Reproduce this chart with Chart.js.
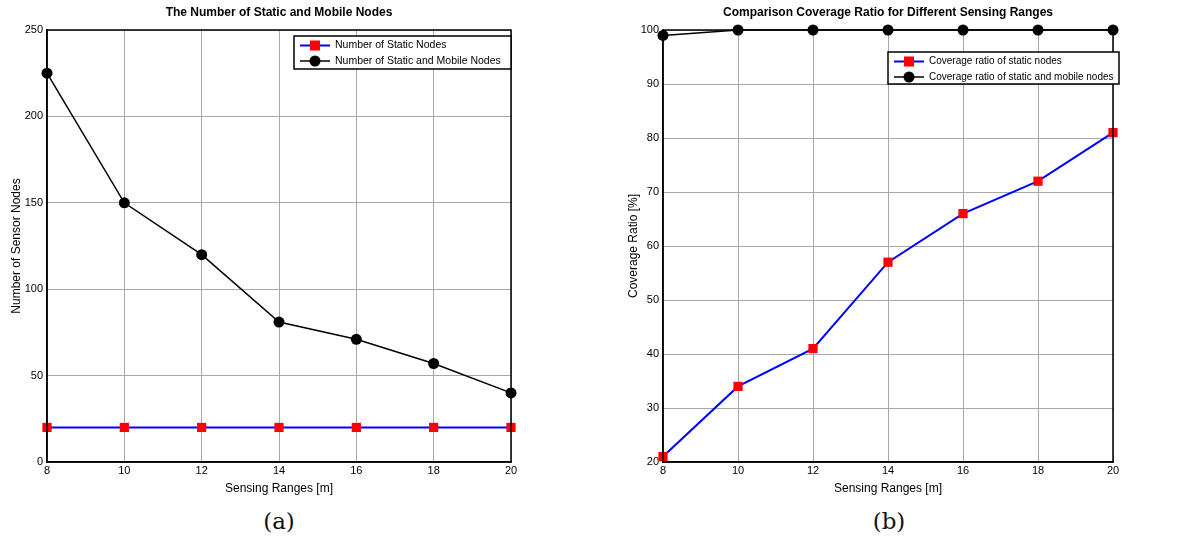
<!DOCTYPE html>
<html>
<head>
<meta charset="utf-8">
<script src="https://cdn.jsdelivr.net/npm/chart.js@4.4.0/dist/chart.umd.min.js"></script>
<style>
  body { margin: 0; background: #fff; width: 1178px; height: 546px; position: relative; overflow: hidden; }
  canvas { position: absolute; }
  .cap { position: absolute; font-family: "DejaVu Serif", "Liberation Serif", serif; font-size: 23px; color: #111; transform: translateX(-50%); }
</style>
</head>
<body>
<canvas id="chartA" style="left:0px;top:0px;width:530px;height:496px"></canvas>
<canvas id="chartB" style="left:620px;top:0px;width:558px;height:496px"></canvas>
<div class="cap" style="left:279px;top:508px">(a)</div>
<div class="cap" style="left:889px;top:508px">(b)</div>
<script>
const ranges = [8, 10, 12, 14, 16, 18, 20];
const staticNodes = [20, 20, 20, 20, 20, 20, 20];
const mobileNodes = [225, 150, 120, 81, 71, 57, 40];
const staticCoverage = [21, 34, 41, 57, 66, 72, 81];
const mobileCoverage = [99, 100, 100, 100, 100, 100, 100];

const font = '"Liberation Sans", Arial, sans-serif';

function points(ys) {
  return ranges.map((x, i) => ({ x: x, y: ys[i] }));
}

// box around plot + legend drawn inside plot, MATLAB style
function boxLegend(box) {
  return {
    id: 'boxLegend',
    afterDraw(chart) {
      const ctx = chart.ctx;
      const a = chart.chartArea;
      ctx.save();
      ctx.strokeStyle = '#000';
      ctx.lineWidth = 1.5;
      ctx.strokeRect(a.left, a.top, a.right - a.left, a.bottom - a.top);
      // legend
      ctx.fillStyle = '#fff';
      ctx.fillRect(box.x, box.y, box.w, box.h);
      ctx.strokeRect(box.x, box.y, box.w, box.h);
      ctx.font = box.size + 'px ' + font;
      ctx.textBaseline = 'middle';
      chart.data.datasets.forEach((ds, i) => {
        const y = box.y + 9.5 + i * 15.5;
        const x0 = box.x + 6;
        ctx.strokeStyle = ds.borderColor;
        ctx.lineWidth = ds.borderWidth;
        ctx.beginPath();
        ctx.moveTo(x0, y);
        ctx.lineTo(x0 + 30, y);
        ctx.stroke();
        ctx.fillStyle = ds.pointBackgroundColor;
        if (ds.pointStyle === 'rect') {
          ctx.fillRect(x0 + 10, y - 5, 10, 10);
        } else {
          ctx.beginPath();
          ctx.arc(x0 + 15, y, 5.5, 0, Math.PI * 2);
          ctx.fill();
        }
        ctx.fillStyle = '#000';
        ctx.fillText(ds.label, x0 + 35, y);
      });
      ctx.restore();
    }
  };
}

function makeChart(id, cfg) {
  const yWidth = cfg.yWidth;
  return new Chart(document.getElementById(id), {
    type: 'line',
    data: {
      datasets: [
        {
          label: cfg.labels[0],
          data: points(cfg.series[0]),
          borderColor: '#0000ff',
          borderWidth: 2,
          pointStyle: 'rect',
          pointRadius: 6.5,
          pointBackgroundColor: '#ff0000',
          pointBorderColor: '#ff0000',
          pointBorderWidth: 0,
          clip: false
        },
        {
          label: cfg.labels[1],
          data: points(cfg.series[1]),
          borderColor: '#000000',
          borderWidth: 1.5,
          pointStyle: 'circle',
          pointRadius: 5.5,
          pointBackgroundColor: '#000000',
          pointBorderColor: '#000000',
          pointBorderWidth: 0,
          clip: false
        }
      ]
    },
    options: {
      responsive: false,
      animation: false,
      layout: { padding: { top: 30, right: cfg.padRight, bottom: 0, left: 0 } },
      plugins: {
        legend: { display: false },
        tooltip: { enabled: false },
        title: { display: false }
      },
      scales: {
        x: {
          type: 'linear',
          min: 8, max: 20,
          ticks: { stepSize: 2, color: '#000', font: { family: font, size: 11 }, padding: 2 },
          grid: { color: '#a8a8a8', drawTicks: false },
          border: { color: '#000', width: 1.5 },
          title: { display: true, text: 'Sensing Ranges [m]', color: '#000', font: { family: font, size: 12 }, padding: { top: 0, bottom: 0 } },
          afterFit(s) { s.height = 34; }
        },
        y: {
          min: cfg.yMin, max: cfg.yMax,
          ticks: { stepSize: cfg.yStep, color: '#000', font: { family: font, size: 11 }, padding: 4 },
          grid: { color: '#a8a8a8', drawTicks: false },
          border: { color: '#000', width: 1.5 },
          title: { display: true, text: cfg.yTitle, color: '#000', font: { family: font, size: 12 }, padding: { top: cfg.titlePad, bottom: 2 } },
          afterFit(s) { s.width = yWidth; }
        }
      }
    },
    plugins: [boxLegend(cfg.legend), {
      id: 'topTitle',
      afterDraw(chart) {
        const ctx = chart.ctx;
        const a = chart.chartArea;
        ctx.save();
        ctx.font = 'bold 12px ' + font;
        ctx.fillStyle = '#000';
        ctx.textAlign = 'center';
        ctx.textBaseline = 'middle';
        ctx.fillText(cfg.title, (a.left + a.right) / 2, 13);
        ctx.restore();
      }
    }]
  });
}

makeChart('chartA', {
  title: 'The Number of Static and Mobile Nodes',
  labels: ['Number of Static Nodes', 'Number of Static and Mobile Nodes'],
  series: [staticNodes, mobileNodes],
  yMin: 0, yMax: 250, yStep: 50,
  yTitle: 'Number of Sensor Nodes',
  yWidth: 47, padRight: 19, titlePad: 9,
  legend: { x: 294, y: 36, w: 217, h: 33, size: 10.5 }
});

makeChart('chartB', {
  title: 'Comparison Coverage Ratio for Different Sensing Ranges',
  labels: ['Coverage ratio of static nodes', 'Coverage ratio of static and mobile nodes'],
  series: [staticCoverage, mobileCoverage],
  yMin: 20, yMax: 100, yStep: 10,
  yTitle: 'Coverage Ratio [%]',
  yWidth: 43, padRight: 65, titlePad: 6,
  legend: { x: 268, y: 52, w: 231, h: 32, size: 10 }
});
</script>
</body>
</html>
